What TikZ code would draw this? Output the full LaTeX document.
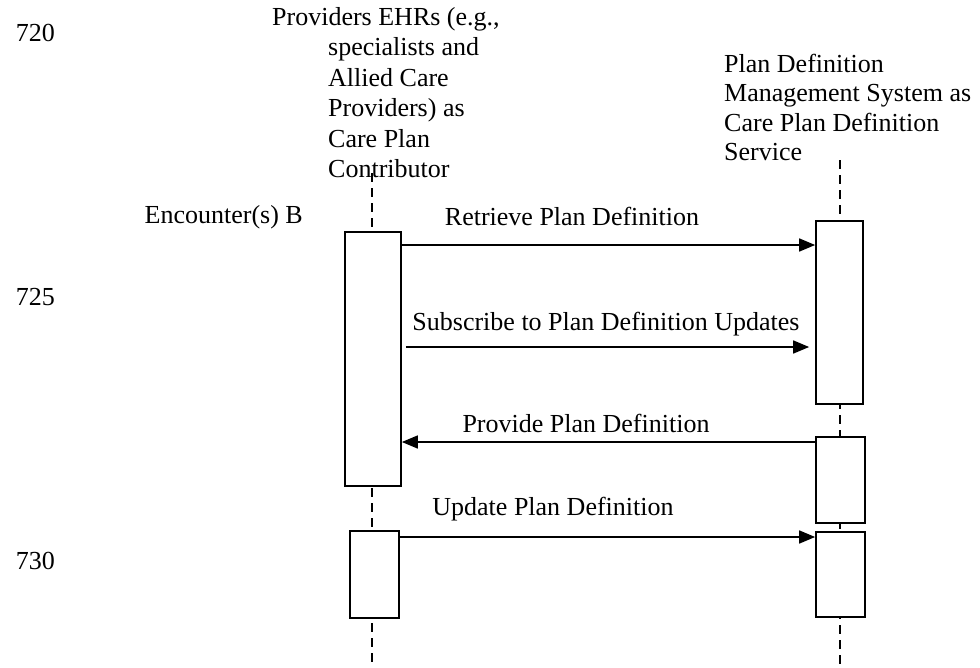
\documentclass[tikz,border=0pt]{standalone}
\usepackage{fontspec}
\setmainfont{Liberation Serif}
\usetikzlibrary{arrows.meta}
\begin{document}
\begin{tikzpicture}[x=1pt,y=-1pt,
  txt/.style={inner sep=0pt, font=\fontsize{26}{30}\selectfont},
  actbox/.style={draw, line width=1.7pt, fill=white, inner sep=0pt},
  life/.style={line width=1.7pt, dash pattern=on 9pt off 6pt},
  msg/.style={line width=1.6pt, -{Triangle[length=16pt,width=13pt]}}]
\useasboundingbox (0,0) rectangle (980,667);

% line numbers
\node[txt, anchor=base east] (n720) at (55,41) {720};
\node[txt, anchor=base east] (n725) at (55,305) {725};
\node[txt, anchor=base east] (n730) at (55,569) {730};

% left participant label
\node[txt, anchor=base west] (l1) at (272,25) {Providers EHRs (e.g.,};
\node[txt, anchor=base west] (l2) at (328,55.5) {specialists and};
\node[txt, anchor=base west] (l3) at (328,86) {Allied Care};
\node[txt, anchor=base west] (l4) at (328,116.5) {Providers) as};
\node[txt, anchor=base west] (l5) at (328,147) {Care Plan};
\node[txt, anchor=base west] (l6) at (328,177.5) {Contributor};

% right participant label
\node[txt, anchor=base west] (r1) at (724,72) {Plan Definition};
\node[txt, anchor=base west] (r2) at (724,101.5) {Management System as};
\node[txt, anchor=base west] (r3) at (724,131) {Care Plan Definition};
\node[txt, anchor=base west] (r4) at (724,160.5) {Service};

\node[txt, anchor=base east] (enc) at (303,223) {Encounter(s) B};

% lifeline end points
\coordinate (ltop) at (372,173);
\coordinate (lbot) at (372,667);
\coordinate (rtop) at (840,160);
\coordinate (rbot) at (840,667);

% lifelines (drawn first, boxes cover them)
\draw[life] (ltop) -- (lbot);
\draw[life] (rtop) -- (rbot);

% activation boxes
\node[actbox, minimum width=56pt, minimum height=254pt] (lb1) at (373,359) {};
\node[actbox, minimum width=49pt, minimum height=87pt] (lb2) at (374.5,574.5) {};
\node[actbox, minimum width=47pt, minimum height=183pt] (rb1) at (839.5,312.5) {};
\node[actbox, minimum width=49pt, minimum height=86pt] (rb2) at (840.5,480) {};
\node[actbox, minimum width=49pt, minimum height=85pt] (rb3) at (840.5,574.5) {};

% messages
\draw[msg] (lb1.east |- 0,245) -- (rb1.west |- 0,245);
\node[txt, anchor=base] (m1) at (572,225) {Retrieve Plan Definition};

\draw[msg] ([xshift=4pt]lb1.east |- 0,347) -- ([xshift=-6pt]rb1.west |- 0,347);
\node[txt, anchor=base] (m2) at (606,330) {Subscribe to Plan Definition Updates};

\draw[msg] (rb2.west |- 0,442) -- (lb1.east |- 0,442);
\node[txt, anchor=base] (m3) at (586,432) {Provide Plan Definition};

\draw[msg] (lb2.east |- 0,537) -- (rb3.west |- 0,537);
\node[txt, anchor=base] (m4) at (553,515) {Update Plan Definition};
\end{tikzpicture}
\end{document}
